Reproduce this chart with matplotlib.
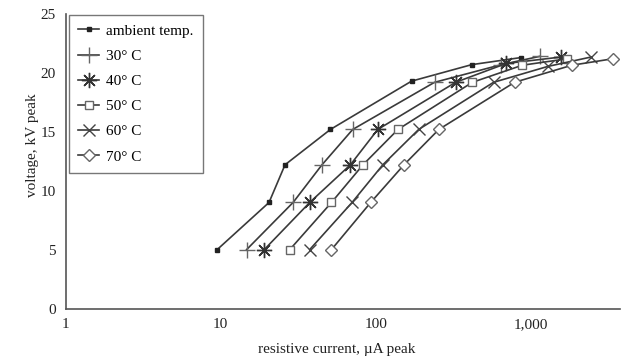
import matplotlib
matplotlib.use("Agg")
import matplotlib.pyplot as plt
from matplotlib.ticker import FixedLocator, NullLocator

plt.rcParams['font.family'] = ['Liberation Serif', 'DejaVu Serif']

# voltage levels, kV peak (same for every series, small drift at the top)
volt_ambient = [5.0, 9.0, 12.2, 15.2, 19.3, 20.7, 21.3]
volt_30 = [5.0, 9.0, 12.2, 15.2, 19.2, 20.7, 21.4]
volt_40 = [5.0, 9.0, 12.2, 15.2, 19.2, 20.8, 21.35]
volt_50 = [5.0, 9.0, 12.2, 15.2, 19.2, 20.65, 21.2]
volt_60 = [5.0, 9.0, 12.2, 15.2, 19.2, 20.55, 21.35]
volt_70 = [5.0, 9.0, 12.2, 15.2, 19.2, 20.65, 21.2]

# resistive current, uA peak
cur_ambient = [9.5, 20.5, 26, 51, 170, 415, 860]
cur_30 = [14.7, 29.3, 45, 71, 239, 644, 1136]
cur_40 = [19.1, 37.5, 68.6, 103, 327, 693, 1567]
cur_50 = [27.9, 51.8, 82.7, 139, 419, 879, 1713]
cur_60 = [37.5, 70.3, 111, 189, 574, 1285, 2445]
cur_70 = [51.8, 92.7, 152, 255, 784, 1834, 3369]

labels = ['ambient temp.', '30° C', '40° C', '50° C', '60° C', '70° C']
xticks = [1, 10, 100, 1000]
xticklabels = ['1', '10', '100', '1,000']
yticks = [0, 5, 10, 15, 20, 25]

fig = plt.figure(figsize=(6.21, 3.58), dpi=100)
ax = fig.add_axes([65.5 / 621, 1 - 308.5 / 358, (620 - 65.5) / 621, (308.5 - 14) / 358])

line_col = '#3a3a3a'
mark_col = '#666666'
styles = [
    dict(marker='s', ms=3.5, mfc='#222222', mec='#222222'),
    dict(marker='+', ms=11, mec=mark_col, mew=1.0),
    dict(marker=(8, 2, 0), ms=11, mec='#333333', mew=1.0),
    dict(marker='s', ms=6, mfc='white', mec=mark_col, mew=1.0),
    dict(marker='x', ms=9, mec='#444444', mew=1.0),
    dict(marker='D', ms=6, mfc='white', mec=mark_col, mew=1.0),
]
series = [(cur_ambient, volt_ambient), (cur_30, volt_30), (cur_40, volt_40),
          (cur_50, volt_50), (cur_60, volt_60), (cur_70, volt_70)]

for (x, y), lab, st in zip(series, labels, styles):
    ax.plot(x, y, color=line_col, lw=1.2, label=lab, **st)

ax.set_xscale('log')
ax.set_xlim(1, 3750)
ax.set_ylim(0, 25)
ax.xaxis.set_major_locator(FixedLocator(xticks))
ax.xaxis.set_minor_locator(NullLocator())
ax.set_xticklabels(xticklabels)
ax.set_yticks(yticks)
ax.tick_params(length=0, labelsize=11, colors='#222222')
ax.tick_params(axis='x', pad=7)
ax.tick_params(axis='y', pad=7)

for s in ['top', 'right']:
    ax.spines[s].set_visible(False)
for s in ['left', 'bottom']:
    ax.spines[s].set_color('#555555')
    ax.spines[s].set_linewidth(1.2)

ax.set_xlabel('resistive current, µA peak', fontsize=11, color='#222222')
ax.set_ylabel('voltage, kV peak', fontsize=11, color='#222222')
ax.xaxis.set_label_coords(0.49, -0.118)
ax.yaxis.set_label_coords(-0.048, 0.555)

leg = ax.legend(loc='upper left', bbox_to_anchor=(0.006, 0.997), fontsize=11,
                frameon=True, fancybox=False, handlelength=1.4, handletextpad=0.45,
                labelspacing=0.75, borderpad=0.6, borderaxespad=0)
leg.get_frame().set_edgecolor('#555555')
leg.get_frame().set_linewidth(1.0)

fig.savefig('out.png', dpi=100)
